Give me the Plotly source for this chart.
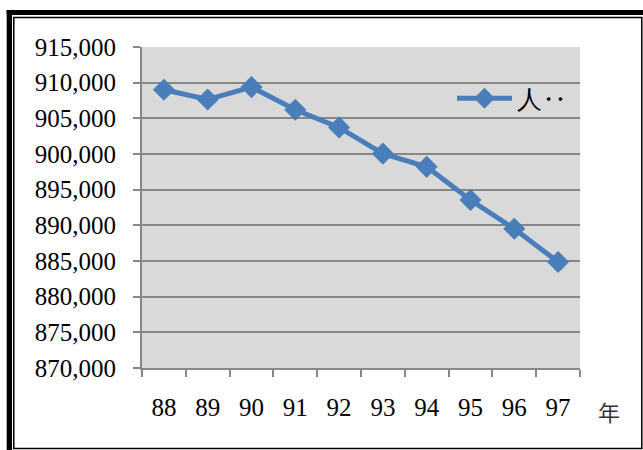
import plotly.graph_objects as go

years = ["88", "89", "90", "91", "92", "93", "94", "95", "96", "97"]
population = [909000, 907650, 909380, 906200, 903730, 900050, 898200, 893550, 889520, 884860]
series_name = "人‥"
y_ticks = [870000, 875000, 880000, 885000, 890000, 895000, 900000, 905000, 910000, 915000]
x_unit = "年"

W, H = 643, 450
L, R, T, B = 142, 63, 47, 82
PW, PH = W - L - R, H - T - B

def px(x):
    return (x - L) / PW

def py(y):
    return (H - B - y) / PH

FONT = "Liberation Serif, Times New Roman, serif"
BLUE = "#4a7ebb"
GRID = "#878787"

fig = go.Figure()
fig.add_trace(go.Scatter(
    x=years, y=population, name=series_name, mode="lines+markers",
    line=dict(color=BLUE, width=5),
    marker=dict(symbol="diamond", size=17, color=BLUE),
    showlegend=True,
))

shapes = []
# thick black frame (left and top)
shapes.append(dict(type="rect", xref="paper", yref="paper", x0=px(6.7), x1=px(12), y0=py(452), y1=py(10),
                   fillcolor="black", line=dict(width=0), layer="above"))
shapes.append(dict(type="rect", xref="paper", yref="paper", x0=px(6.7), x1=px(645), y0=py(15), y1=py(10),
                   fillcolor="black", line=dict(width=0), layer="above"))
# thin inner frame
shapes.append(dict(type="rect", xref="paper", yref="paper", x0=px(13.8), x1=px(641.8), y0=py(448.5), y1=py(17.5),
                   fillcolor="rgba(0,0,0,0)", line=dict(color="black", width=1.5), layer="above"))

fig.update_layout(
    width=W, height=H,
    margin=dict(l=L, r=R, t=T, b=B),
    paper_bgcolor="white",
    plot_bgcolor="#d9d9d9",
    font=dict(family=FONT, size=25, color="black"),
    shapes=shapes,
    legend=dict(x=px(452), y=py(98.5), xanchor="left", yanchor="middle",
                bgcolor="rgba(0,0,0,0)", font=dict(size=25, family=FONT),
                itemwidth=55, tracegroupgap=0),
    annotations=[dict(text=x_unit, xref="paper", yref="paper", x=px(609), y=py(411),
                      xanchor="center", yanchor="middle", showarrow=False,
                      font=dict(size=22, family="Noto Sans CJK TC", color="#333"))],
    xaxis=dict(
        type="category", showgrid=False, showline=True, linecolor=GRID, linewidth=2,
        ticks="outside", ticklen=7, tickwidth=2, tickcolor=GRID, tickson="boundaries",
        ticklabelstandoff=16, tickfont=dict(size=25, family=FONT),
        range=[-0.5, len(years) - 0.5], zeroline=False,
    ),
    yaxis=dict(
        range=[y_ticks[0], y_ticks[-1]], tickvals=y_ticks, tickformat=",d",
        showgrid=True, gridcolor=GRID, gridwidth=2,
        showline=True, linecolor=GRID, linewidth=2,
        ticks="outside", ticklen=7, tickwidth=2, tickcolor=GRID,
        ticklabelstandoff=12, tickfont=dict(size=25, family=FONT), zeroline=False,
    ),
)

fig.write_html("out.html", config={"displayModeBar": False},
               post_script="document.body.style.margin='0';document.body.style.overflow='hidden';")
